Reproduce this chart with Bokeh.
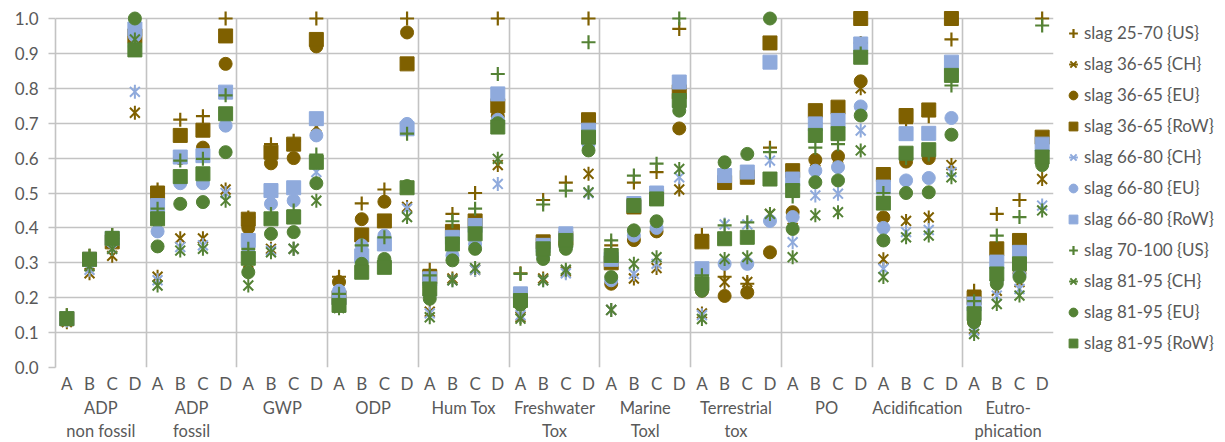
import numpy as np
from bokeh.plotting import figure
from bokeh.models import Range1d, LinearAxis, FixedTicker, Legend, LegendItem
from bokeh.embed import file_html
from bokeh.resources import INLINE

# ---------------- data ----------------
categories = ["ADP\nnon fossil", "ADP\nfossil", "GWP", "ODP", "Hum Tox", "Freshwater\nTox",
              "Marine\nToxl", "Terrestrial\ntox", "PO", "Acidification", "Eutro-\nphication"]
sub_labels = ["A", "B", "C", "D"]
y_ticks = [0.0, 0.1, 0.2, 0.3, 0.4, 0.5, 0.6, 0.7, 0.8, 0.9, 1.0]

slag_25_70_US = [0.15, 0.32, 0.38, 0.97,  0.51, 0.71, 0.72, 1.00,  0.43, 0.64, 0.65, 1.00,
                 0.26, 0.47, 0.51, 1.00,  0.28, 0.44, 0.50, 1.00,  0.27, 0.48, 0.53, 1.00,
                 0.35, 0.53, 0.56, 0.97,  0.38, 0.26, 0.24, 0.63,  0.55, 0.70, 0.72, 0.93,
                 0.54, 0.70, 0.72, 0.94,  0.22, 0.44, 0.48, 1.00]
slag_36_65_CH = [0.13, 0.27, 0.32, 0.73,  0.26, 0.37, 0.37, 0.51,  0.30, 0.34, 0.34, 0.69,
                 0.19, 0.30, 0.30, 0.46,  0.16, 0.255, 0.28, 0.58,  0.145, 0.255, 0.275, 0.555,
                 0.165, 0.255, 0.285, 0.51,  0.155, 0.245, 0.245, 0.44,  0.40, 0.59, 0.60, 0.80,
                 0.31, 0.42, 0.43, 0.58,  0.11, 0.22, 0.245, 0.54]
slag_36_65_EU = [0.14, 0.31, 0.36, 0.95,  0.42, 0.60, 0.63, 0.87,  0.40, 0.585, 0.60, 0.92,
                 0.245, 0.425, 0.475, 0.96,  0.23, 0.37, 0.40, 0.72,  0.19, 0.33, 0.35, 0.65,
                 0.24, 0.365, 0.39, 0.685,  0.22, 0.205, 0.215, 0.33,  0.445, 0.595, 0.605, 0.82,
                 0.43, 0.59, 0.60, 0.85,  0.13, 0.25, 0.27, 0.65]
slag_36_65_RoW = [0.14, 0.31, 0.36, 0.95,  0.50, 0.665, 0.68, 0.95,  0.425, 0.617, 0.64, 0.94,
                  0.20, 0.38, 0.42, 0.87,  0.26, 0.39, 0.42, 0.75,  0.20, 0.36, 0.37, 0.71,
                  0.30, 0.46, 0.49, 0.79,  0.36, 0.53, 0.545, 0.93,  0.564, 0.736, 0.746, 1.00,
                  0.553, 0.722, 0.738, 1.00,  0.20, 0.34, 0.364, 0.66]
slag_66_80_CH = [0.135, 0.28, 0.34, 0.79,  0.25, 0.345, 0.35, 0.50,  0.31, 0.335, 0.34, 0.56,
                 0.18, 0.30, 0.30, 0.455,  0.155, 0.25, 0.28, 0.526,  0.15, 0.25, 0.27, 0.50,
                 0.165, 0.268, 0.297, 0.545,  0.15, 0.41, 0.41, 0.593,  0.359, 0.493, 0.498, 0.679,
                 0.283, 0.388, 0.394, 0.56,  0.106, 0.206, 0.225, 0.464]
slag_66_80_EU = [0.14, 0.31, 0.36, 0.95,  0.39, 0.528, 0.528, 0.693,  0.33, 0.469, 0.478, 0.665,
                 0.22, 0.35, 0.378, 0.698,  0.21, 0.321, 0.354, 0.71,  0.185, 0.32, 0.345, 0.64,
                 0.25, 0.378, 0.40, 0.75,  0.23, 0.297, 0.297, 0.42,  0.431, 0.564, 0.574, 0.748,
                 0.40, 0.536, 0.543, 0.715,  0.14, 0.25, 0.265, 0.62]
slag_66_80_RoW = [0.14, 0.31, 0.37, 0.97,  0.464, 0.603, 0.607, 0.789,  0.364, 0.507, 0.515, 0.713,
                  0.20, 0.32, 0.354, 0.684,  0.254, 0.373, 0.407, 0.784,  0.211, 0.35, 0.383, 0.68,
                  0.31, 0.47, 0.50, 0.818,  0.283, 0.55, 0.56, 0.875,  0.54, 0.698, 0.708, 0.927,
                  0.517, 0.67, 0.671, 0.875,  0.182, 0.302, 0.33, 0.64]
slag_70_100_US = [0.15, 0.32, 0.38, 0.92,  0.455, 0.593, 0.598, 0.78,  0.34, 0.44, 0.45, 0.61,
                  0.211, 0.35, 0.373, 0.67,  0.264, 0.419, 0.455, 0.841,  0.268, 0.467, 0.507, 0.932,
                  0.364, 0.55, 0.584, 1.00,  0.264, 0.407, 0.416, 0.617,  0.49, 0.63, 0.64, 0.90,
                  0.50, 0.60, 0.61, 0.808,  0.19, 0.378, 0.431, 0.98]
slag_81_95_CH = [0.14, 0.29, 0.34, 0.94,  0.235, 0.335, 0.34, 0.478,  0.235, 0.33, 0.34, 0.478,
                 0.17, 0.29, 0.29, 0.431,  0.144, 0.25, 0.285, 0.598,  0.14, 0.25, 0.28, 0.502,
                 0.165, 0.297, 0.316, 0.569,  0.139, 0.311, 0.316, 0.44,  0.316, 0.436, 0.445, 0.622,
                 0.259, 0.373, 0.378, 0.545,  0.096, 0.182, 0.206, 0.45]
slag_81_95_EU = [0.14, 0.31, 0.37, 1.00,  0.347, 0.469, 0.474, 0.617,  0.273, 0.383, 0.388, 0.528,
                 0.18, 0.297, 0.311, 0.52,  0.197, 0.307, 0.34, 0.70,  0.18, 0.311, 0.34, 0.622,
                 0.259, 0.393, 0.419, 0.736,  0.22, 0.588, 0.612, 1.00,  0.397, 0.531, 0.536, 0.722,
                 0.364, 0.50, 0.502, 0.667,  0.13, 0.24, 0.259, 0.58]
slag_81_95_RoW = [0.14, 0.31, 0.37, 0.91,  0.426, 0.547, 0.555, 0.727,  0.313, 0.426, 0.431, 0.588,
                  0.178, 0.273, 0.287, 0.515,  0.225, 0.354, 0.383, 0.689,  0.192, 0.34, 0.364, 0.66,
                  0.321, 0.464, 0.483, 0.765,  0.24, 0.369, 0.373, 0.54,  0.507, 0.665, 0.67, 0.889,
                  0.471, 0.614, 0.624, 0.837,  0.154, 0.268, 0.297, 0.603]

BROWN = "#7f6000"
LBLUE = "#8faadc"
GREEN = "#548235"

series = [
    ("slag 25-70 {US}", slag_25_70_US, BROWN, "plus"),
    ("slag 36-65 {CH}", slag_36_65_CH, BROWN, "star"),
    ("slag 36-65 {EU}", slag_36_65_EU, BROWN, "circle"),
    ("slag 36-65 {RoW}", slag_36_65_RoW, BROWN, "square"),
    ("slag 66-80 {CH}", slag_66_80_CH, LBLUE, "star"),
    ("slag 66-80 {EU}", slag_66_80_EU, LBLUE, "circle"),
    ("slag 66-80 {RoW}", slag_66_80_RoW, LBLUE, "square"),
    ("slag 70-100 {US}", slag_70_100_US, GREEN, "plus"),
    ("slag 81-95 {CH}", slag_81_95_CH, GREEN, "star"),
    ("slag 81-95 {EU}", slag_81_95_EU, GREEN, "circle"),
    ("slag 81-95 {RoW}", slag_81_95_RoW, GREEN, "square"),
]

n_slots = len(categories) * len(sub_labels)
xs = [2 * i + 1 for i in range(n_slots)]

FONT = "Lato"
TXT = "#595959"
GRID = "#c3c3c3"
FS = "17px"

frame_h = 359
ymax = frame_h / 349.0

p = figure(frame_width=998, frame_height=frame_h, output_backend="svg", toolbar_location=None,
           x_range=Range1d(0, 2 * n_slots), y_range=Range1d(0, ymax),
           min_border_left=55, min_border_right=172, min_border_top=8,
           min_border_bottom=75)
p.outline_line_color = None
p.background_fill_color = "white"

# grids
p.xgrid.ticker = FixedTicker(ticks=[8 * k for k in range(len(categories) + 1)])
p.xgrid.grid_line_color = GRID
p.xgrid.grid_line_width = 1.6
p.xgrid.cross_bounds = (0, 1.0)
p.ygrid.grid_line_color = GRID
p.ygrid.grid_line_width = 1.6


def style_axis(ax, standoff, fs=FS):
    ax.axis_line_color = None
    ax.major_tick_line_color = None
    ax.minor_tick_line_color = None
    ax.major_tick_out = 0
    ax.major_tick_in = 0
    ax.minor_tick_out = 0
    ax.minor_tick_in = 0
    ax.axis_label_standoff = 0
    ax.major_label_standoff = standoff
    ax.major_label_text_font = FONT
    ax.major_label_text_font_size = fs
    ax.major_label_text_color = TXT


# y axis (gray ticks outside, as in the reference)
p.yaxis.ticker = FixedTicker(ticks=y_ticks)
p.yaxis.major_label_overrides = {t: f"{t:.1f}" for t in y_ticks}
p.yaxis.bounds = (0, 1.0)
style_axis(p.yaxis[0], 10)
p.yaxis.axis_line_color = GRID
p.yaxis.axis_line_width = 1.6
p.yaxis.major_tick_line_color = GRID
p.yaxis.major_tick_line_width = 1.6
p.yaxis.major_tick_out = 7

# x axis (sub labels)
p.xaxis.ticker = FixedTicker(ticks=xs)
p.xaxis.major_label_overrides = {x: sub_labels[i % 4] for i, x in enumerate(xs)}
style_axis(p.xaxis[0], 5)

# group axes: one per text line of the category names
gticks = [8 * k + 4 for k in range(len(categories))]
cat_lines = [c.split("\n") + [""] * (2 - len(c.split("\n"))) for c in categories]
for line_no, standoff in ((0, 1), (1, 0)):
    gaxis = LinearAxis(ticker=FixedTicker(ticks=gticks),
                       major_label_overrides={t: (cat_lines[k][line_no] or " ")
                                              for k, t in enumerate(gticks)})
    style_axis(gaxis, standoff, "16.5px")
    p.add_layout(gaxis, "below")

items = []
for name, vals, col, kind in series:
    if kind == "plus":
        r = p.scatter(xs, vals, marker="cross", size=14, line_color=col, line_width=2.2)
        rs = [r]
    elif kind == "star":
        r1 = p.scatter(xs, vals, marker="x", size=14, line_color=col, line_width=2)
        r2 = p.scatter(xs, vals, marker="dash", angle=np.pi / 2, size=14, line_color=col, line_width=2)
        rs = [r1, r2]
    elif kind == "circle":
        r = p.scatter(xs, vals, marker="circle", size=13, fill_color=col, line_color=col, line_width=1)
        rs = [r]
    else:
        r = p.scatter(xs, vals, marker="square", size=14, fill_color=col, line_color=col, line_width=1)
        rs = [r]
    items.append(LegendItem(label=name, renderers=rs))

legend = Legend(items=items, location="left")
legend.border_line_color = None
legend.background_fill_alpha = 0
legend.padding = 0
legend.margin = 9
legend.glyph_width = 22
legend.glyph_height = 22
legend.label_height = 22
legend.spacing = 9
legend.label_standoff = 0
legend.label_text_font = FONT
legend.label_text_font_size = FS
legend.label_text_color = TXT
p.add_layout(legend, "right")

open("out.html", "w").write(file_html(p, INLINE))
